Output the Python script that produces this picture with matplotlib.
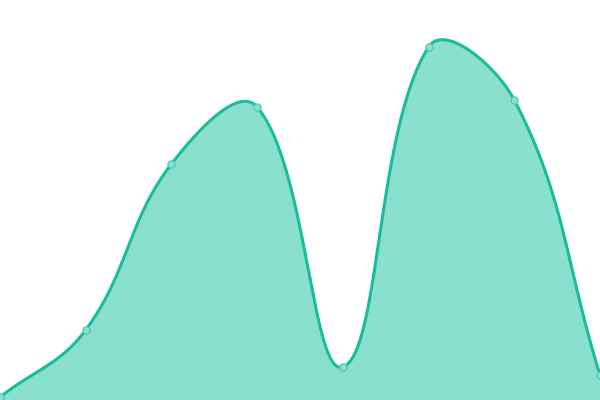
import numpy as np
import matplotlib
matplotlib.use("Agg")
import matplotlib.pyplot as plt

labels = ["A", "B", "C", "D", "E", "F", "G", "H"]
values = [3, 70, 236, 293, 33, 353, 300, 25]

W, H = 600, 400
tension = 0.4

fig = plt.figure(figsize=(6, 4), dpi=100)
ax = fig.add_axes([0, 0, 1, 1])
ax.set_xlim(0, len(values) - 1)
ax.set_ylim(0, 400)
ax.axis("off")

# pixel positions, chart.js style spline (tension 0.4)
px = np.arange(len(values)) * W / (len(values) - 1)
py = np.array(values, dtype=float) * H / 400
pts = np.column_stack([px, py])
n = len(pts)
cp_prev = pts.copy()
cp_next = pts.copy()
for i in range(n):
    prev = pts[i - 1] if i > 0 else pts[i]
    cur = pts[i]
    nxt = pts[i + 1] if i < n - 1 else pts[i]
    d01 = np.hypot(*(cur - prev))
    d12 = np.hypot(*(nxt - cur))
    s01 = d01 / (d01 + d12) if d01 + d12 else 0
    s12 = d12 / (d01 + d12) if d01 + d12 else 0
    cp_prev[i] = cur - tension * s01 * (nxt - prev)
    cp_next[i] = cur + tension * s12 * (nxt - prev)
cp_prev[:, 1] = np.clip(cp_prev[:, 1], 0, H)
cp_next[:, 1] = np.clip(cp_next[:, 1], 0, H)

t = np.linspace(0, 1, 60)[:, None]
curve = []
for i in range(n - 1):
    p0, p1, p2, p3 = pts[i], cp_next[i], cp_prev[i + 1], pts[i + 1]
    seg = (1 - t) ** 3 * p0 + 3 * (1 - t) ** 2 * t * p1 + 3 * (1 - t) * t ** 2 * p2 + t ** 3 * p3
    curve.append(seg if i == 0 else seg[1:])
curve = np.vstack(curve)
cx = curve[:, 0] * (n - 1) / W
cy = curve[:, 1] * 400 / H

ax.fill_between(cx, cy, 0, color="#89e0cf", lw=0)
ax.plot(cx, cy, color="#1abc9c", lw=2.2, solid_capstyle="round")
ax.plot(np.arange(n), values, "o", ms=5.2, mfc="#8ce0cf", mec="#4fcbb1", mew=0.9, clip_on=True)

fig.savefig("out.png", dpi=100)
